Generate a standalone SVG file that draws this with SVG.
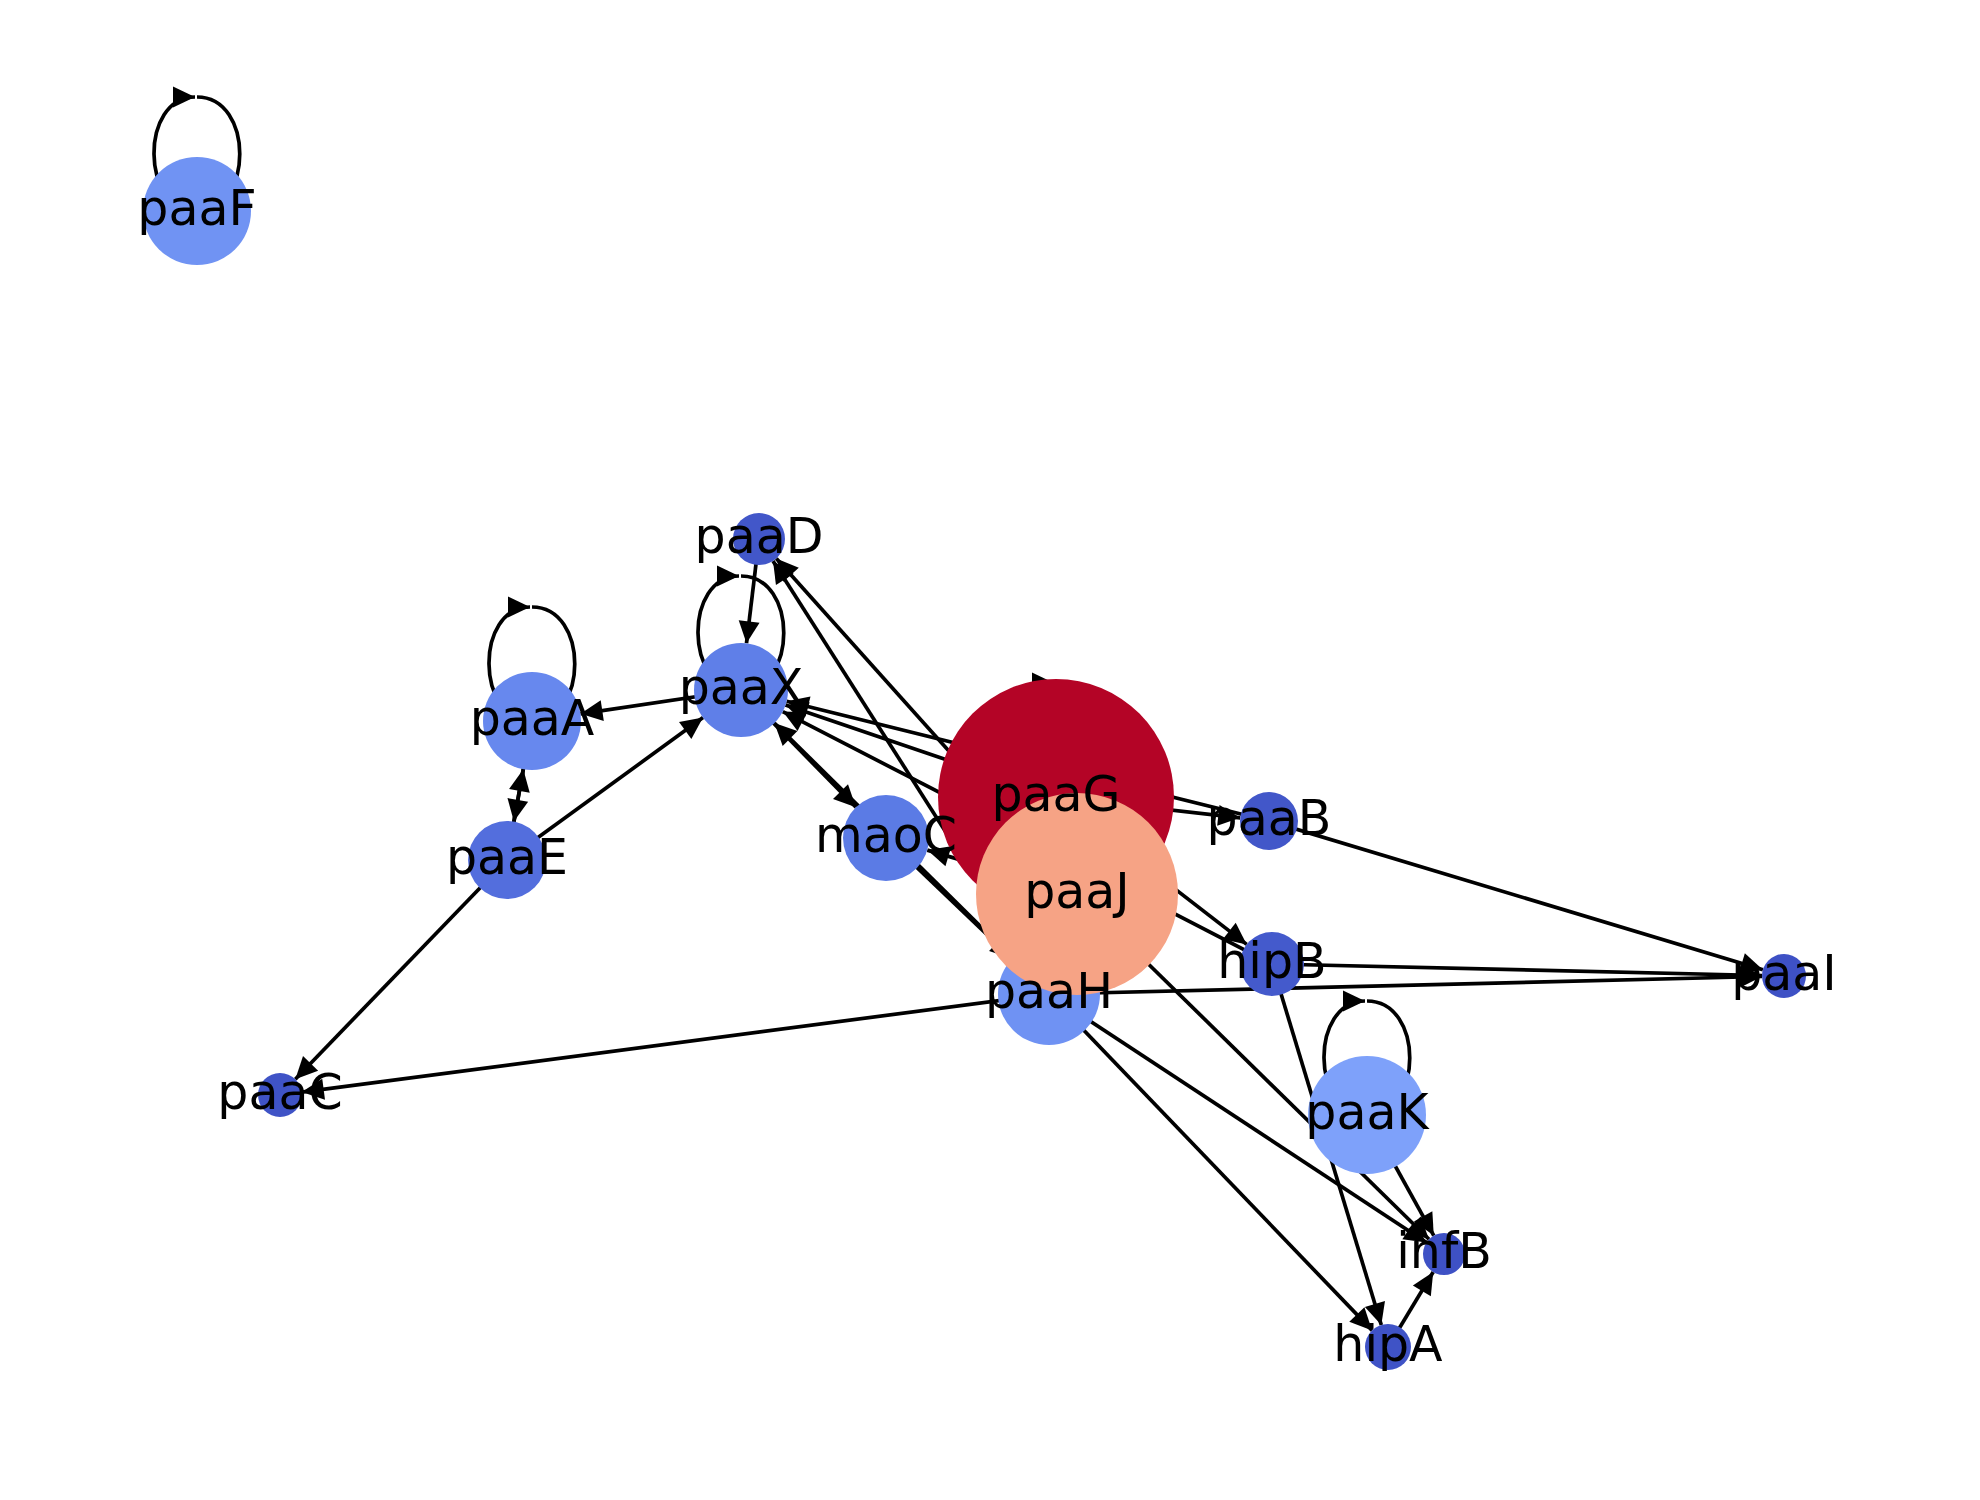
<svg xmlns="http://www.w3.org/2000/svg" width="1980" height="1500" viewBox="0 0 1980 1500">
<style>
.e{stroke:#000;stroke-width:3.7;fill:none;marker-end:url(#ah)}
.l{font-family:"DejaVu Sans","Liberation Sans",sans-serif;font-size:49px;fill:#000;text-anchor:middle}
</style>
<defs>
<marker id="ah" markerUnits="userSpaceOnUse" markerWidth="40" markerHeight="40" refX="0" refY="0" orient="auto" style="overflow:visible">
<path d="M0,0 L-22,-10.5 L-22,10.5 Z" fill="#000"/>
</marker>
</defs>
<rect width="1980" height="1500" fill="#fff"/>
<g id="edges">
<path class="e" d="M197,97 C254,97 254,211 197,211 C140,211 140,97 195,97"/>
<path class="e" d="M532,607 C589,607 589,721 532,721 C475,721 475,607 530,607"/>
<path class="e" d="M741,576 C798,576 798,690 741,690 C684,690 684,576 739,576"/>
<path class="e" d="M1367,1001 C1424,1001 1424,1115 1367,1115 C1310,1115 1310,1001 1365,1001"/>
<path class="e" d="M1056,683 C1113,683 1113,797 1056,797 C999,797 999,683 1054,683"/>
<path class="e" d="M759,539 L746.5,643.3"/>
<path class="e" d="M741,690 L580.5,713.8"/>
<path class="e" d="M507,860 L703,717.6"/>
<path class="e" d="M532,721 L513.9,821.6"/>
<path class="e" d="M507,860 L523.3,769.2"/>
<path class="e" d="M507,860 L295.3,1079.2"/>
<path class="e" d="M1049,994 L301.8,1092.1"/>
<path class="e" d="M1049,994 L1762,976.5"/>
<path class="e" d="M1272,964 L1762,975.5"/>
<path class="e" d="M1269,821 L1762.9,969.7"/>
<path class="e" d="M1077,894 L776.3,558.4"/>
<path class="e" d="M1049,994 L773,560.9"/>
<path class="e" d="M1056,797 L785.5,705.1"/>
<path class="e" d="M1269,821 L786.6,701.3"/>
<path class="e" d="M1272,964 L782.8,711.6"/>
<path class="e" d="M741,690 L855.9,807.3"/>
<path class="e" d="M1049,994 L774.4,723"/>
<path class="e" d="M886,838 L1012.2,958.7"/>
<path class="e" d="M1077,894 L927.3,850.1"/>
<path class="e" d="M1056,797 L1240.2,817.8"/>
<path class="e" d="M1056,797 L1246.7,944.4"/>
<path class="e" d="M1077,894 L1429,1239.3"/>
<path class="e" d="M1049,994 L1426.5,1242.5"/>
<path class="e" d="M1367,1115 L1433.8,1235.6"/>
<path class="e" d="M1049,994 L1372.1,1330.4"/>
<path class="e" d="M1272,964 L1381.3,1325"/>
<path class="e" d="M1388,1347 L1433.2,1272"/>
</g>
<g id="paaF"><circle cx="197" cy="211" r="54" fill="#7093f3"/></g>
<g id="paaA"><circle cx="532" cy="721" r="49" fill="#6788ee"/></g>
<g id="paaX"><circle cx="741" cy="690" r="47" fill="#5f7fe8"/></g>
<g id="paaD"><circle cx="759" cy="539" r="26" fill="#4257c9"/></g>
<g id="paaE"><circle cx="507" cy="860" r="39" fill="#536edd"/></g>
<g id="paaC"><circle cx="280" cy="1095" r="22" fill="#3f53c6"/></g>
<g id="maoC"><circle cx="886" cy="838" r="43" fill="#5b7be5"/></g>
<g id="paaG"><circle cx="1056" cy="797" r="118" fill="#b40426"/></g>
<g id="paaH"><circle cx="1049" cy="994" r="51" fill="#6f92f3"/></g>
<g id="paaB"><circle cx="1269" cy="821" r="29" fill="#4257c9"/></g>
<g id="hipB"><circle cx="1272" cy="964" r="32" fill="#445acc"/></g>
<g id="paaI"><circle cx="1784" cy="976" r="22" fill="#3e51c5"/></g>
<g id="paaK"><circle cx="1367" cy="1115" r="59" fill="#7ea1fa"/></g>
<g id="infB"><circle cx="1444" cy="1254" r="21" fill="#3e51c5"/></g>
<g id="hipA"><circle cx="1388" cy="1347" r="23" fill="#3f53c6"/></g>
<g id="paaJ"><circle cx="1077" cy="894" r="101" fill="#f6a385"/></g>
<g id="labels">
<text class="l" x="197" y="225">paaF</text>
<text class="l" x="532" y="735">paaA</text>
<text class="l" x="741" y="704">paaX</text>
<text class="l" x="759" y="553">paaD</text>
<text class="l" x="507" y="874">paaE</text>
<text class="l" x="280" y="1109">paaC</text>
<text class="l" x="886" y="852">maoC</text>
<text class="l" x="1056" y="811">paaG</text>
<text class="l" x="1049" y="1008">paaH</text>
<text class="l" x="1269" y="835">paaB</text>
<text class="l" x="1272" y="978">hipB</text>
<text class="l" x="1784" y="990">paaI</text>
<text class="l" x="1367" y="1129">paaK</text>
<text class="l" x="1444" y="1268">infB</text>
<text class="l" x="1388" y="1361">hipA</text>
<text class="l" x="1077" y="908">paaJ</text>
</g>
</svg>
